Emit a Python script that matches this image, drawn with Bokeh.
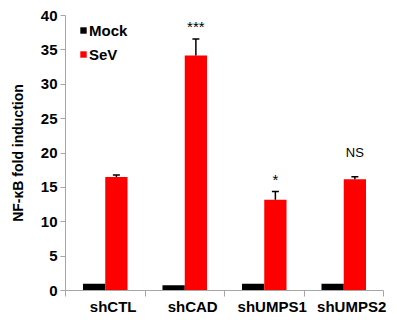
from bokeh.plotting import figure
from bokeh.models import (ColumnDataSource, FixedTicker, Whisker, TeeHead, Legend,
                          LegendItem, Range1d, CustomJSTickFormatter)
from bokeh.core.properties import value
from bokeh.embed import file_html
from bokeh.resources import INLINE

categories = ["shCTL", "shCAD", "shUMPS1", "shUMPS2"]
mock = [1.0, 0.75, 1.0, 1.0]
sev = [16.5, 34.2, 13.2, 16.2]
sev_err = [0.3, 2.4, 1.2, 0.35]
sig = ["", "***", "*", "NS"]
y_ticks = [0, 5, 10, 15, 20, 25, 30, 35, 40]

FONT = "Liberation Sans"
n = len(categories)
bw = 0.28
x_mock = [i + 0.5 - bw / 2 for i in range(n)]
x_sev = [i + 0.5 + bw / 2 for i in range(n)]

p = figure(frame_width=318, frame_height=275, x_range=Range1d(0, n), y_range=Range1d(0, 40),
           output_backend="svg", toolbar_location=None,
           min_border_left=65, min_border_right=14, min_border_top=15, min_border_bottom=30)
p.outline_line_color = None
p.xgrid.visible = False
p.ygrid.visible = False
p.background_fill_color = "white"

r_mock = p.vbar(x=x_mock, top=mock, width=bw, fill_color="black", line_color=None)
r_sev = p.vbar(x=x_sev, top=sev, width=bw, fill_color="#ff0000", line_color=None)

err_src = ColumnDataSource(dict(x=x_sev, lower=sev, upper=[s + e for s, e in zip(sev, sev_err)]))
wh = Whisker(base="x", lower="lower", upper="upper", dimension="height", source=err_src,
             lower_head=None, upper_head=TeeHead(size=7, line_color="black", line_width=1.5),
             line_color="black", line_width=1.5, level="overlay")
p.add_layout(wh)

star_idx = [i for i in range(n) if sig[i] and sig[i] != "NS"]
ns_idx = [i for i in range(n) if sig[i] == "NS"]
p.text(x=[x_sev[i] for i in star_idx], y=[sev[i] + sev_err[i] for i in star_idx],
       text=[sig[i] for i in star_idx], text_font=value(FONT), text_font_size="15px",
       text_align="center", text_baseline="alphabetic", y_offset=-12, text_color="black")
p.text(x=[x_sev[i] for i in ns_idx], y=[sev[i] + sev_err[i] for i in ns_idx],
       text=[sig[i] for i in ns_idx], text_font=value(FONT), text_font_size="13px",
       text_align="center", text_baseline="alphabetic", y_offset=-24, text_color="black")

axis_gray = "#a6a6a6"
xa = p.xaxis[0]
xa.ticker = FixedTicker(ticks=[i + 0.6 for i in range(n)], minor_ticks=list(range(n + 1)))
xa.formatter = CustomJSTickFormatter(args=dict(labels=categories),
                                     code="return labels[Math.floor(tick)];")
xa.axis_line_color = axis_gray
xa.major_tick_line_color = None
xa.major_tick_out = 0
xa.major_tick_in = 0
xa.minor_tick_line_color = axis_gray
xa.minor_tick_out = 6
xa.minor_tick_in = 0
xa.major_label_standoff = 1
xa.major_label_text_font = FONT
xa.major_label_text_font_style = "bold"
xa.major_label_text_font_size = "15px"
xa.major_label_text_color = "black"

ya = p.yaxis[0]
ya.ticker = FixedTicker(ticks=y_ticks)
ya.axis_line_color = axis_gray
ya.major_tick_line_color = axis_gray
ya.major_tick_out = 5
ya.major_tick_in = 0
ya.minor_tick_line_color = None
ya.major_label_standoff = 3
ya.major_label_text_font = FONT
ya.major_label_text_font_style = "bold"
ya.major_label_text_font_size = "15px"
ya.major_label_text_color = "black"
ya.axis_label = "NF-κB fold induction"
ya.axis_label_text_font = FONT
ya.axis_label_text_font_style = "bold"
ya.axis_label_text_font_size = "14px"
ya.axis_label_text_color = "black"
ya.axis_label_standoff = 12

legend = Legend(items=[LegendItem(label="Mock", renderers=[r_mock]),
                       LegendItem(label="SeV", renderers=[r_sev])],
                location=(14, 227), margin=0, padding=0, spacing=6,
                glyph_width=8, glyph_height=8, label_height=18, label_standoff=2,
                label_text_font=FONT, label_text_font_style="bold",
                label_text_font_size="15px", label_text_color="black",
                border_line_color=None, background_fill_alpha=0)
p.add_layout(legend)

open("out.html", "w").write(file_html(p, INLINE))
